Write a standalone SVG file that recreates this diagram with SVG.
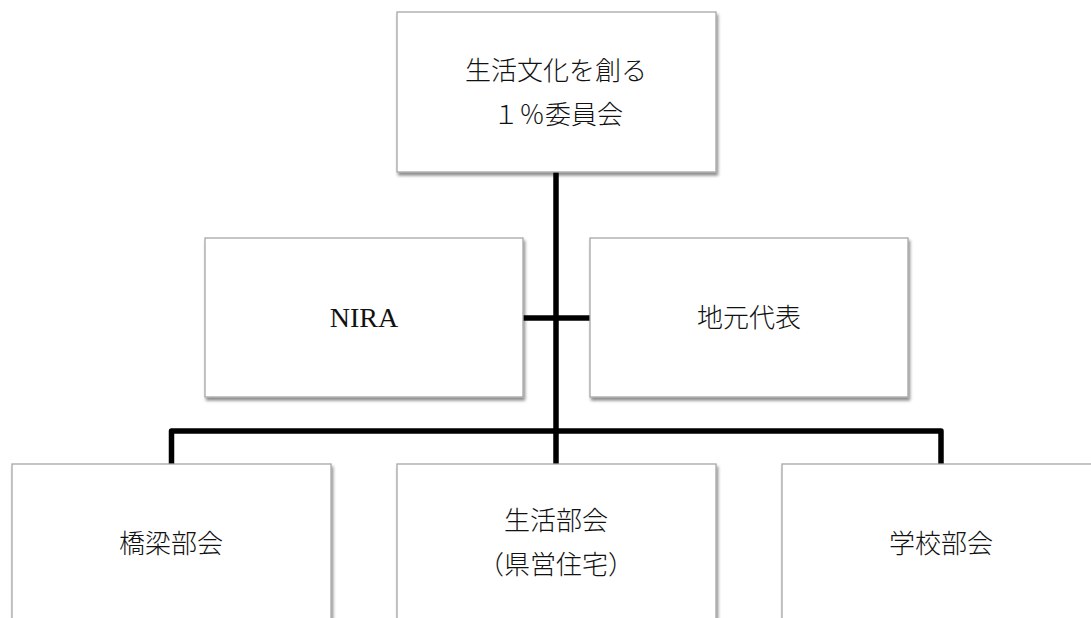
<svg xmlns="http://www.w3.org/2000/svg" width="1091" height="618" viewBox="0 0 1091 618">
<style>
.box{fill:#ffffff;stroke:#a6a6a6;stroke-width:1.3;filter:url(#sh)}
.t{font-family:"Liberation Serif","Noto Sans CJK JP",serif;font-size:26px;font-weight:300;fill:#111111;text-anchor:middle}
.lat{font-size:28px;font-weight:400}
.c{fill:none;stroke:#000000;stroke-width:5.5;stroke-linejoin:round}
</style>
<defs>
<filter id="sh" x="-10%" y="-10%" width="120%" height="130%">
<feDropShadow dx="1.5" dy="3" stdDeviation="1.6" flood-color="#000000" flood-opacity="0.45"/>
</filter>
</defs>
<rect width="1091" height="618" fill="#ffffff"/>
<g id="connectors">
<path class="c" d="M556 172 V431"/>
<path class="c" d="M523 318 H590"/>
<path class="c" d="M171.5 464 V431 H941 V464"/>
<path class="c" d="M556 431 V464"/>
</g>
<g id="n-top">
<rect class="box" x="397" y="12" width="319" height="160"/>
<text class="t" x="556" y="80">生活文化を創る</text>
<text class="t" x="558" y="124">１％委員会</text>
</g>
<g id="n-nira">
<rect class="box" x="205" y="238" width="318" height="159"/>
<text class="t lat" x="364" y="327">NIRA</text>
</g>
<g id="n-jimoto">
<rect class="box" x="590" y="238" width="318" height="159"/>
<text class="t" x="749" y="327">地元代表</text>
</g>
<g id="n-kyoryo">
<rect class="box" x="12" y="464" width="319" height="170"/>
<text class="t" x="171" y="553">橋梁部会</text>
</g>
<g id="n-seikatsu">
<rect class="box" x="397" y="464" width="319" height="170"/>
<text class="t" x="556" y="530">生活部会</text>
<text class="t" x="556" y="574">（県営住宅）</text>
</g>
<g id="n-gakko">
<rect class="box" x="782" y="464" width="319" height="170"/>
<text class="t" x="941" y="553">学校部会</text>
</g>
</svg>
